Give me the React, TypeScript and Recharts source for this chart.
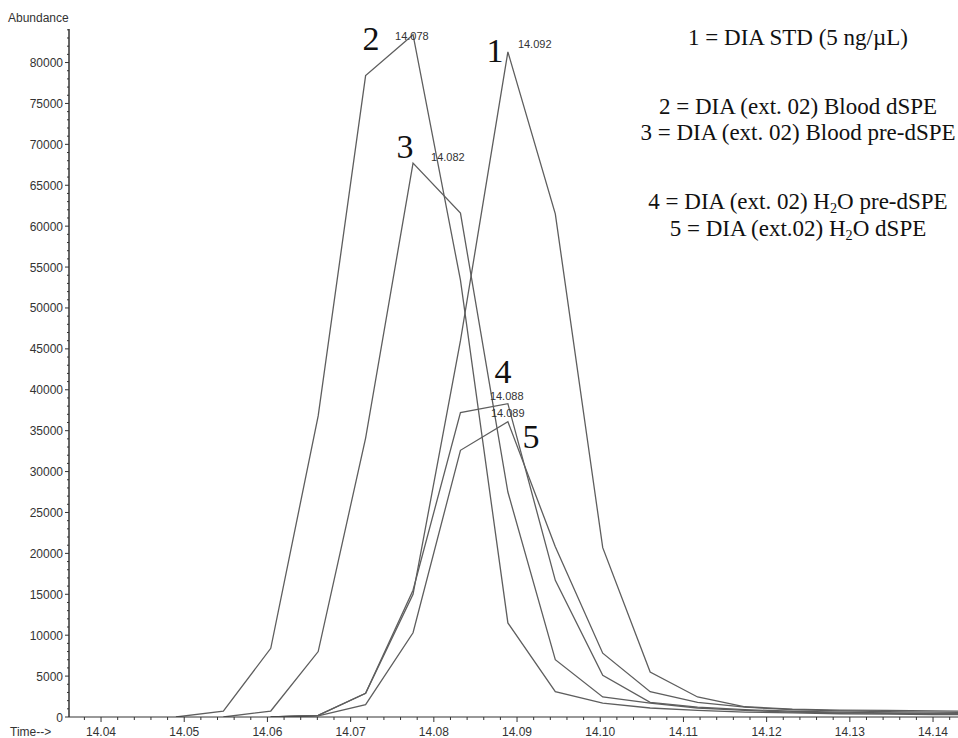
import { LineChart, Line, XAxis, YAxis, ReferenceDot } from "recharts";

// retention time grid (min), one scan every ~0.0057 min
const times = [
  14.049, 14.0547, 14.0604, 14.0661, 14.0718, 14.0775, 14.0832, 14.0889, 14.0946,
  14.1003, 14.106, 14.1117, 14.1174, 14.1231, 14.1288, 14.1345, 14.1402, 14.1459,
];

// abundance per scan, null = trace not shown there
const std5 = [null, null, 0, 200, 2900, 15000, 46000, 81300, 61500, 20700, 5500, 2450, 1250, 950, 850, 800, 750, 700];
const bloodDspe = [0, 730, 8400, 36800, 78400, 83400, 53400, 11500, 3100, 1700, 1100, 800, 600, 500, 400, 350, 300, 300];
const bloodPreDspe = [null, 0, 730, 8000, 34100, 67700, 61600, 27500, 7000, 2450, 1700, 1100, 800, 600, 500, 450, 400, 400];
const waterPreDspe = [null, null, 0, 200, 2900, 15500, 37200, 38300, 16700, 5100, 1800, 1200, 900, 700, 600, 500, 450, 450];
const waterDspe = [null, null, 0, 150, 1500, 10300, 32600, 36100, 20800, 7800, 3100, 1800, 1200, 900, 750, 650, 600, 550];

const traceNumbers = ["1", "2", "3", "4", "5"];
const peakRtLabels = ["14.092", "14.078", "14.082", "14.088", "14.089"];

const legendLines = [
  "1 = DIA STD (5 ng/\u00b5L)",
  "2 = DIA (ext. 02) Blood dSPE",
  "3 = DIA (ext. 02) Blood pre-dSPE",
  "4 = DIA (ext. 02) H2O pre-dSPE",
  "5 = DIA (ext.02) H2O dSPE",
];

const xMajorTicks = [14.04, 14.05, 14.06, 14.07, 14.08, 14.09, 14.1, 14.11, 14.12, 14.13, 14.14];
const yMajorTicks = [0, 5000, 10000, 15000, 20000, 25000, 30000, 35000, 40000, 45000, 50000, 55000, 60000, 65000, 70000, 75000, 80000];

const X_DOMAIN = [14.03615, 14.143];
const Y_DOMAIN = [0, 84100];

// minor ticks: every 0.002 min on x, every 1000 on y
const xTicks: number[] = [];
for (let i = Math.ceil(X_DOMAIN[0] / 0.002); i * 0.002 <= X_DOMAIN[1]; i++) {
  xTicks.push(Math.round(i * 2) / 1000);
}
const yTicks: number[] = [];
for (let v = 0; v <= Y_DOMAIN[1]; v += 1000) yTicks.push(v);

const traces = [std5, bloodDspe, bloodPreDspe, waterPreDspe, waterDspe].map((vals) =>
  times.map((t, i) => ({ t, v: vals[i] }))
);

const peaks = traces.map((pts) =>
  pts.reduce((best, p) => ((p.v ?? -1) > (best.v ?? -1) ? p : best), pts[0])
);

// label placement around each apex, in px: [number dx, dy, rt dx, dy]
const labelOffsets = [
  [-13, 10, 10, -4],
  [-42, 15, -18, 5],
  [-8, -5, 18, -2],
  [-5, -21, -18, -4],
  [23, 26, -17, -5],
];

const sans = "'Liberation Sans', Arial, sans-serif";
const serif = "'Liberation Serif', 'Times New Roman', serif";
const axisColor = "#333";
const traceColor = "#5e5e5e";

const XTick = ({ x, y, payload }: any) => {
  const major = Math.round(payload.value * 1000) % 10 === 0;
  return (
    <g>
      <line x1={x} x2={x} y1={y} y2={y + (major ? 5 : 3)} stroke={axisColor} />
      {major && (
        <text x={x} y={y + 19} textAnchor="middle" fontSize={12} fontFamily={sans} fill={axisColor}>
          {payload.value.toFixed(2)}
        </text>
      )}
    </g>
  );
};

const YTick = ({ x, y, payload }: any) => {
  const major = payload.value % 5000 === 0;
  return (
    <g>
      <line x1={x - (major ? 4 : 2)} x2={x} y1={y} y2={y} stroke={axisColor} />
      {major && (
        <text x={x - 6} y={y + 4.5} textAnchor="end" fontSize={12} fontFamily={sans} fill={axisColor}>
          {payload.value}
        </text>
      )}
    </g>
  );
};

const renderLegendText = (s: string) => {
  const parts = s.split("H2O");
  if (parts.length === 1) return s;
  return (
    <>
      {parts[0]}H<span style={{ fontSize: "0.62em", verticalAlign: "-0.25em" }}>2</span>O{parts[1]}
    </>
  );
};

const legendTops = [24, 93, 119, 188, 215];

export default function App() {
  return (
    <div style={{ position: "absolute", left: 0, top: 0, width: 958, height: 738, overflow: "hidden", background: "#fff" }}>
      <LineChart width={958} height={738} margin={{ top: 29, right: 0, bottom: 0, left: 0 }}>
        <XAxis
          dataKey="t"
          type="number"
          domain={X_DOMAIN}
          allowDataOverflow
          ticks={xTicks}
          interval={0}
          tickSize={0}
          tickMargin={0}
          tickLine={false}
          tick={(p: any) => <XTick {...p} />}
          axisLine={{ stroke: axisColor }}
          height={21}
        />
        <YAxis
          type="number"
          domain={Y_DOMAIN}
          allowDataOverflow
          ticks={yTicks}
          interval={0}
          tickSize={0}
          tickMargin={0}
          tickLine={false}
          tick={(p: any) => <YTick {...p} />}
          axisLine={{ stroke: axisColor, strokeWidth: 1.5 }}
          width={69}
        />
        {traces.map((pts, i) => (
          <Line
            key={traceNumbers[i]}
            data={pts}
            dataKey="v"
            type="linear"
            stroke={traceColor}
            strokeWidth={1.3}
            dot={false}
            activeDot={false}
            connectNulls={false}
            isAnimationActive={false}
          />
        ))}
        {peaks.map((p, i) => (
          <ReferenceDot
            key={"pk" + i}
            x={p.t}
            y={p.v as number}
            r={0}
            ifOverflow="visible"
            shape={(s: any) => {
              const [ndx, ndy, rdx, rdy] = labelOffsets[i];
              return (
                <g>
                  <text x={s.cx + ndx} y={s.cy + ndy} textAnchor="middle" fontSize={34} fontFamily={serif} fill="#111">
                    {traceNumbers[i]}
                  </text>
                  <text x={s.cx + rdx} y={s.cy + rdy} fontSize={11} fontFamily={sans} fill="#333">
                    {peakRtLabels[i]}
                  </text>
                </g>
              );
            }}
          />
        ))}
      </LineChart>
      <div style={{ position: "absolute", left: 8, top: 11, fontFamily: sans, fontSize: 12, lineHeight: "14px", color: axisColor }}>
        Abundance
      </div>
      <div style={{ position: "absolute", left: 10, top: 725, fontFamily: sans, fontSize: 12, lineHeight: "14px", color: axisColor }}>
        Time--&gt;
      </div>
      {legendLines.map((s, i) => (
        <div
          key={s}
          style={{
            position: "absolute",
            left: 598,
            width: 400,
            top: legendTops[i],
            textAlign: "center",
            whiteSpace: "nowrap",
            fontFamily: serif,
            fontSize: 23,
            lineHeight: "28px",
            color: "#111",
          }}
        >
          {renderLegendText(s)}
        </div>
      ))}
    </div>
  );
}
